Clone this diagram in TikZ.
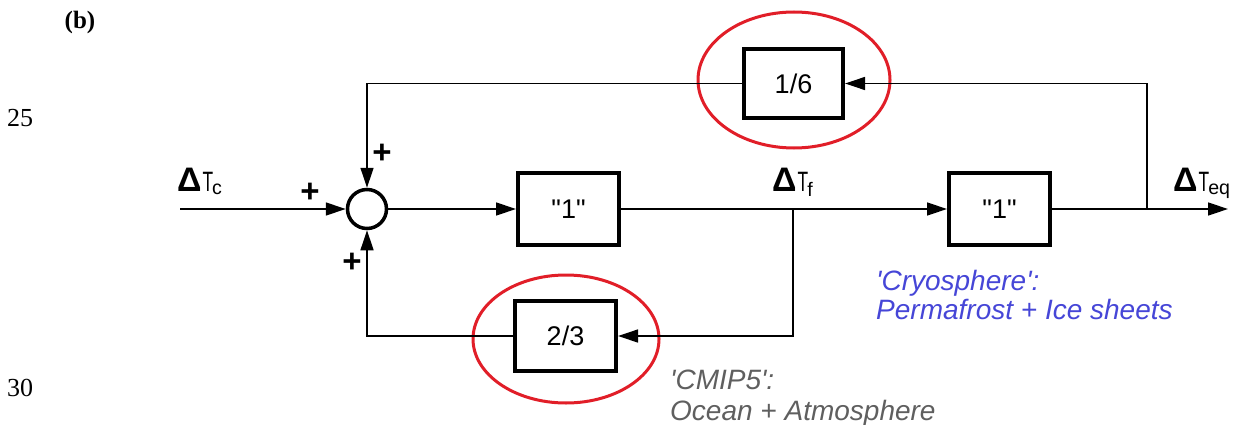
\documentclass[tikz,border=0pt]{standalone}
\usepackage{fontspec}
\usepackage{graphicx}
\usetikzlibrary{arrows.meta}
\newfontfamily\arial{Liberation Sans}
\newfontfamily\timesf{Liberation Serif}
\definecolor{cryoblue}{RGB}{70,70,215}
\definecolor{cmipgray}{RGB}{95,95,95}
\definecolor{ringred}{RGB}{225,30,40}
\newcommand{\dT}[1]{{\fontsize{34}{30}\selectfont\bfseries Δ}\kern1pt\scalebox{0.62}[1]{T}\textsubscript{\kern-1pt#1}}
\begin{document}
\begin{tikzpicture}[x=1pt,y=-1pt,
  conn/.style={line width=1.3pt},
  arr/.style={conn,-{Triangle[length=20pt,width=13pt]}},
  blk/.style={draw,line width=4pt,inner sep=0pt,font=\arial\fontsize{27}{30}\selectfont},
  sumnode/.style={draw,circle,line width=3.5pt,minimum size=39pt,inner sep=0pt},
  ring/.style={draw=ringred,line width=3pt},
  plus/.style={font=\arial\bfseries\fontsize{33}{30}\selectfont,inner sep=0pt},
  sig/.style={font=\arial\fontsize{28}{30}\selectfont,inner sep=0pt,anchor=base west},
  note/.style={font=\arial\itshape\fontsize{28}{30}\selectfont,inner sep=0pt,anchor=base west},
  margin/.style={font=\timesf\fontsize{26}{28}\selectfont,inner sep=0pt}
]
\useasboundingbox (0,0) rectangle (1233,425);

% margin labels
\node[margin,font=\timesf\bfseries\fontsize{25}{26}\selectfont] (lb) at (80,22) {(b)};
\node[margin] (l25) at (20,118) {25};
\node[margin] (l30) at (20,388) {30};

% blocks
\node[sumnode] (sum) at (367,209) {};
\node[blk,minimum width=101pt,minimum height=72pt] (b1) at (568.5,209) {"1"};
\node[blk,minimum width=101pt,minimum height=72pt] (b2) at (999.5,209) {"1"};
\node[blk,minimum width=99pt,minimum height=69pt] (b16) at (793.5,83.5) {1/6};
\node[blk,minimum width=101pt,minimum height=70pt] (b23) at (565.5,336) {2/3};

% red rings
\draw[ring] (794,80) ellipse [x radius=96, y radius=68];
\draw[ring] (566,339) ellipse [x radius=93, y radius=64];

% coordinates
\coordinate (in) at (180,209);
\coordinate (tf) at (793,209);
\coordinate (br) at (1147,209);
\coordinate (out) at (1228,209);

% connectors
\draw[arr] (in) -- (sum.west);
\draw[arr] (sum.east) -- (b1.west);
\draw[arr] (b1.east) -- (b2.west);
\draw[arr] (b2.east) -- (out);
\draw[arr] (br) |- (b16.east);
\draw[arr] (b16.west) -| (sum.north);
\draw[arr] (tf) |- (b23.east);
\draw[arr] (b23.west) -| (sum.south);

% plus signs
\node[plus] (pl) at (310,193) {+};
\node[plus] (pt) at (382,154) {+};
\node[plus] (pb) at (352,263) {+};

% signal labels
\node[sig] (ltc) at (177,191) {\dT{c}};
\node[sig] (ltf) at (772,191) {\dT{f}};
\node[sig] (lteq) at (1173,191) {\dT{eq}};

% notes
\node[note,text=cryoblue] (cr1) at (876,290) {'Cryosphere':};
\node[note,text=cryoblue] (cr2) at (876,319) {Permafrost + Ice sheets};
\node[note,text=cmipgray] (cm1) at (670,389) {'CMIP5':};
\node[note,text=cmipgray] (cm2) at (670,420) {Ocean + Atmosphere};
\end{tikzpicture}
\end{document}
